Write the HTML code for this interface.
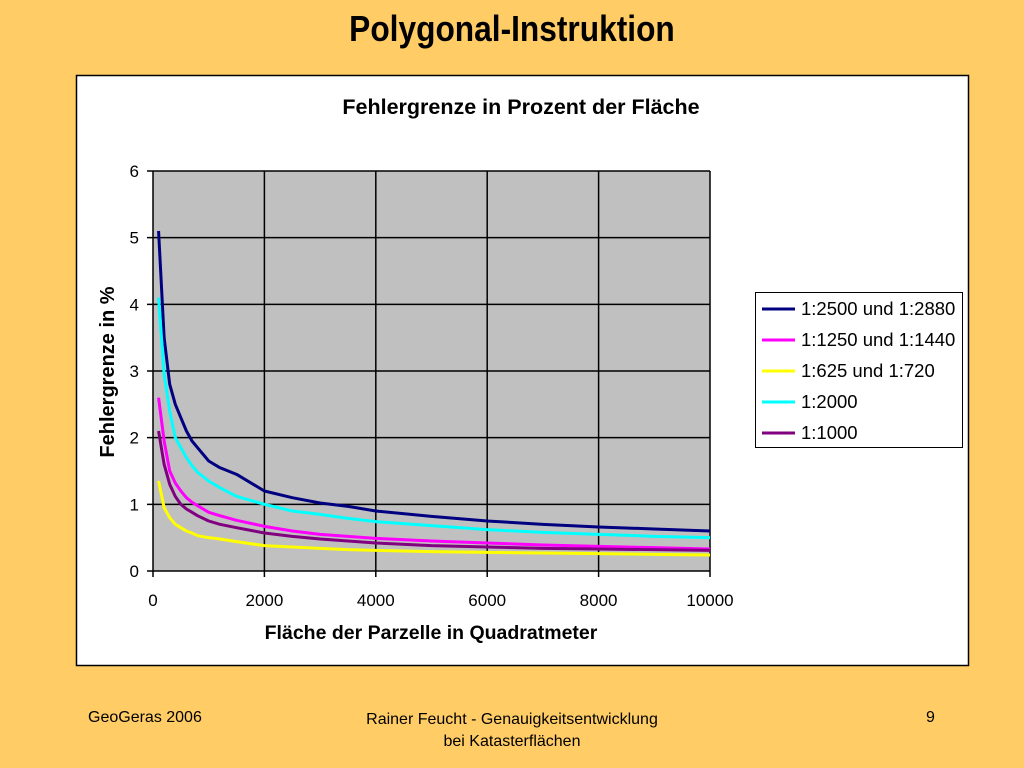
<!DOCTYPE html>
<html><head><meta charset="utf-8"><style>
body{margin:0;width:1024px;height:768px;background:#FFCC66;position:relative;overflow:hidden;font-family:"Liberation Sans",sans-serif}
.t{position:absolute;white-space:nowrap}
</style></head><body>
<div class="t" style="left:0;width:1024px;text-align:center;top:8px;font-size:36px;font-weight:bold;transform:scaleX(0.88)">Polygonal-Instruktion</div>
<svg width="1024" height="768" style="position:absolute;left:0;top:0" id="svg">
<rect x="76.5" y="75.5" width="892" height="590" fill="#fff" stroke="#000" stroke-width="1.5"/>
<text x="521" y="114" text-anchor="middle" font-size="21.5" font-weight="bold" font-family="Liberation Sans">Fehlergrenze in Prozent der Fläche</text>
<rect x="153" y="171" width="557" height="400" fill="#C0C0C0"/>
<g id="grid"></g><g id="series"></g>
<text x="431" y="639" text-anchor="middle" font-size="19.5" font-weight="bold" font-family="Liberation Sans">Fläche der Parzelle in Quadratmeter</text>
<text transform="translate(114,372) rotate(-90)" text-anchor="middle" font-size="20" font-weight="bold" font-family="Liberation Sans">Fehlergrenze in %</text>
<rect x="755.5" y="292.5" width="207" height="155" fill="#fff" stroke="#000"/>
<g id="legend"></g>
</svg>
<div class="t" style="left:88px;top:709px;font-size:16px">GeoGeras 2006</div>
<div class="t" style="left:312px;width:400px;text-align:center;top:709px;font-size:16px;line-height:22px">Rainer Feucht - Genauigkeitsentwicklung<br>bei Katasterflächen</div>
<div class="t" style="left:926px;top:709px;font-size:16px">9</div>
<script>
const areas=[100,200,300,400,500,600,700,800,1000,1200,1500,2000,2500,3000,3500,4000,5000,6000,7000,8000,9000,10000];
const s2500=[5.1,3.5,2.8,2.5,2.3,2.1,1.95,1.85,1.65,1.55,1.45,1.2,1.1,1.02,0.97,0.9,0.82,0.75,0.7,0.66,0.63,0.6];
const s1250=[2.6,1.95,1.5,1.32,1.2,1.1,1.03,0.98,0.88,0.83,0.76,0.67,0.6,0.55,0.52,0.49,0.45,0.42,0.39,0.37,0.35,0.33];
const s625=[1.35,0.95,0.8,0.7,0.65,0.6,0.57,0.53,0.5,0.48,0.44,0.38,0.36,0.34,0.32,0.31,0.29,0.28,0.27,0.26,0.25,0.24];
const s2000=[4.1,2.95,2.4,2.0,1.85,1.7,1.58,1.48,1.35,1.25,1.12,1.0,0.9,0.85,0.79,0.74,0.68,0.62,0.58,0.55,0.52,0.5];
const s1000=[2.1,1.6,1.3,1.12,1.0,0.93,0.88,0.83,0.75,0.7,0.65,0.57,0.52,0.48,0.45,0.42,0.38,0.36,0.34,0.33,0.32,0.31];
const xTicks=[0,2000,4000,6000,8000,10000];
const yTicks=[0,1,2,3,4,5,6];
const names=["1:2500 und 1:2880","1:1250 und 1:1440","1:625 und 1:720","1:2000","1:1000"];
const NS="http://www.w3.org/2000/svg";
const X=v=>153+v/10000*557, Y=v=>571-v/6*400;
function mk(t,a,p){const e=document.createElementNS(NS,t);for(const k in a)e.setAttribute(k,a[k]);p.appendChild(e);return e;}
const g=document.getElementById('grid');
xTicks.forEach(v=>{const l=mk('line',{x1:X(v),x2:X(v),y1:171,y2:577,stroke:'#000','stroke-width':1.5},g);


const t=mk('text',{x:X(v),y:606,'text-anchor':'middle','font-size':17,'font-family':'Liberation Sans'},g);t.textContent=v;

});
yTicks.forEach(v=>{const l=mk('line',{x1:147,x2:710,y1:Y(v),y2:Y(v),stroke:'#000','stroke-width':1.5},g);


const t=mk('text',{x:139,y:Y(v)+6,'text-anchor':'end','font-size':17,'font-family':'Liberation Sans'},g);t.textContent=v;

});
const series=[[s2500,'#000080'],[s1250,'#FF00FF'],[s625,'#FFFF00'],[s2000,'#00FFFF'],[s1000,'#800080']];
const sg=document.getElementById('series'), lg=document.getElementById('legend');
series.forEach(([d,c],i)=>{const p=mk('polyline',{points:areas.map((a,j)=>X(a)+','+Y(d[j])).join(' '),fill:'none',stroke:c,'stroke-width':3,'stroke-linejoin':'round'},sg);


const y=309+i*31;
const l=mk('line',{x1:762,x2:795,y1:y,y2:y,stroke:c,'stroke-width':3},lg);


const t=mk('text',{x:801,y:y+6,'font-size':18.5,'font-family':'Liberation Sans'},lg);t.textContent=names[i];

});
</script>
</body></html>
